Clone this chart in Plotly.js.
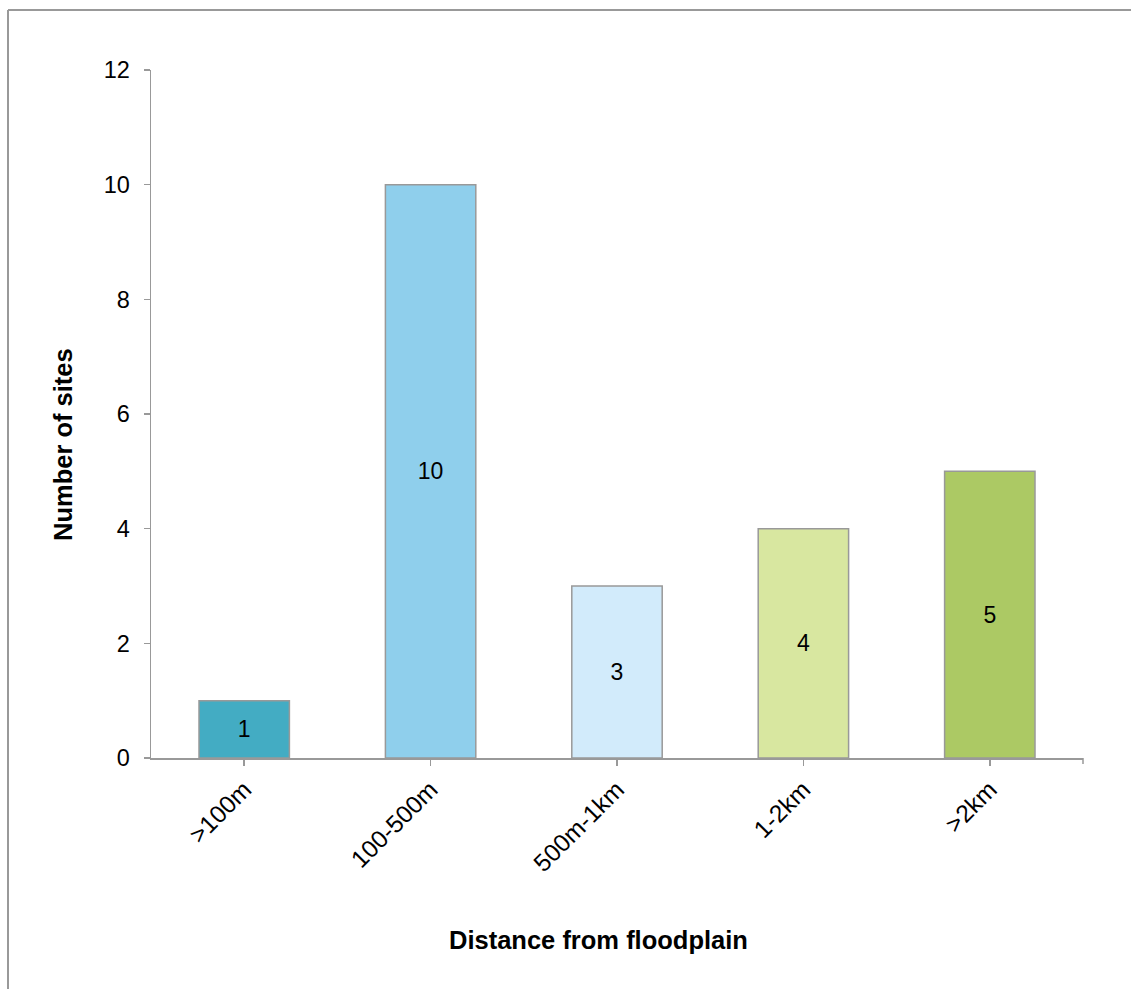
<!DOCTYPE html>
<html>
<head>
<meta charset="utf-8">
<script src="https://cdn.plot.ly/plotly-3.0.1.min.js"></script>
<style>html,body{margin:0;padding:0;background:#fff;}#chart{width:1131px;height:989px;}</style>
</head>
<body>
<div id="chart"></div>
<script>
const categories = [">100m", "100-500m", "500m-1km", "1-2km", ">2km"];
const siteCounts = [1, 10, 3, 4, 5];
const barColors = ["#43ACC3", "#8FCFEC", "#D2EBFB", "#D8E7A0", "#ACC964"];
const yTickValues = [0, 2, 4, 6, 8, 10, 12];

const W = 1131, H = 989;
const m = {l: 151, r: 48, t: 70, b: 231};
const pw = W - m.l - m.r, ph = H - m.t - m.b;
const px = x => (x - m.l) / pw;
const py = y => 1 - (y - m.t) / ph;

const trace = {
  type: "bar",
  x: categories,
  y: siteCounts,
  text: siteCounts.map(String),
  textposition: "inside",
  insidetextanchor: "middle",
  textangle: 0,
  textfont: {family: "Liberation Sans, Arial, sans-serif", size: 23, color: "#000"},
  marker: {color: barColors, line: {color: "#999999", width: 1.5}},
  width: 0.485,
  hoverinfo: "skip"
};

const layout = {
  width: W, height: H,
  margin: m,
  paper_bgcolor: "#fff", plot_bgcolor: "#fff",
  showlegend: false,
  font: {family: "Liberation Sans, Arial, sans-serif", size: 23, color: "#000"},
  xaxis: {
    type: "category",
    range: [-0.5, 4.5],
    showline: true, linecolor: "#999999", linewidth: 1.5,
    ticks: "outside", ticklen: 6, tickcolor: "#999999", tickwidth: 1.5,
    tickangle: -45,
    tickfont: {size: 24.5},
    ticklabelstandoff: 0,
    showgrid: false, zeroline: false, fixedrange: true
  },
  yaxis: {
    range: [0, 12],
    tickvals: yTickValues,
    showline: true, linecolor: "#999999", linewidth: 1.5,
    ticks: "outside", ticklen: 6, tickcolor: "#999999", tickwidth: 1.5,
    tickfont: {size: 23.5},
    ticklabelstandoff: 9,
    showgrid: false, zeroline: false, fixedrange: true
  },
  annotations: [
    {text: "<b>Number of sites</b>", xref: "paper", yref: "paper", x: px(63), y: py(445),
     textangle: -90, showarrow: false, xanchor: "center", yanchor: "middle",
     font: {family: "Liberation Sans, Arial, sans-serif", size: 25.5, color: "#000"}},
    {text: "<b>Distance from floodplain</b>", xref: "paper", yref: "paper", x: px(598), y: py(940),
     showarrow: false, xanchor: "center", yanchor: "middle",
     font: {family: "Liberation Sans, Arial, sans-serif", size: 25.5, color: "#000"}}
  ],
  shapes: [
    {type: "line", xref: "paper", yref: "paper", x0: 1, x1: 1, y0: 0, y1: py(764), line: {color: "#999999", width: 1.5}},
    {type: "line", xref: "paper", yref: "paper", x0: px(8), x1: px(8), y0: py(1000), y1: py(10), line: {color: "#999999", width: 2}},
    {type: "line", xref: "paper", yref: "paper", x0: px(8), x1: px(1140), y0: py(10), y1: py(10), line: {color: "#999999", width: 2}}
  ]
};

Plotly.newPlot("chart", [trace], layout, {displayModeBar: false, staticPlot: true});
</script>
</body>
</html>
